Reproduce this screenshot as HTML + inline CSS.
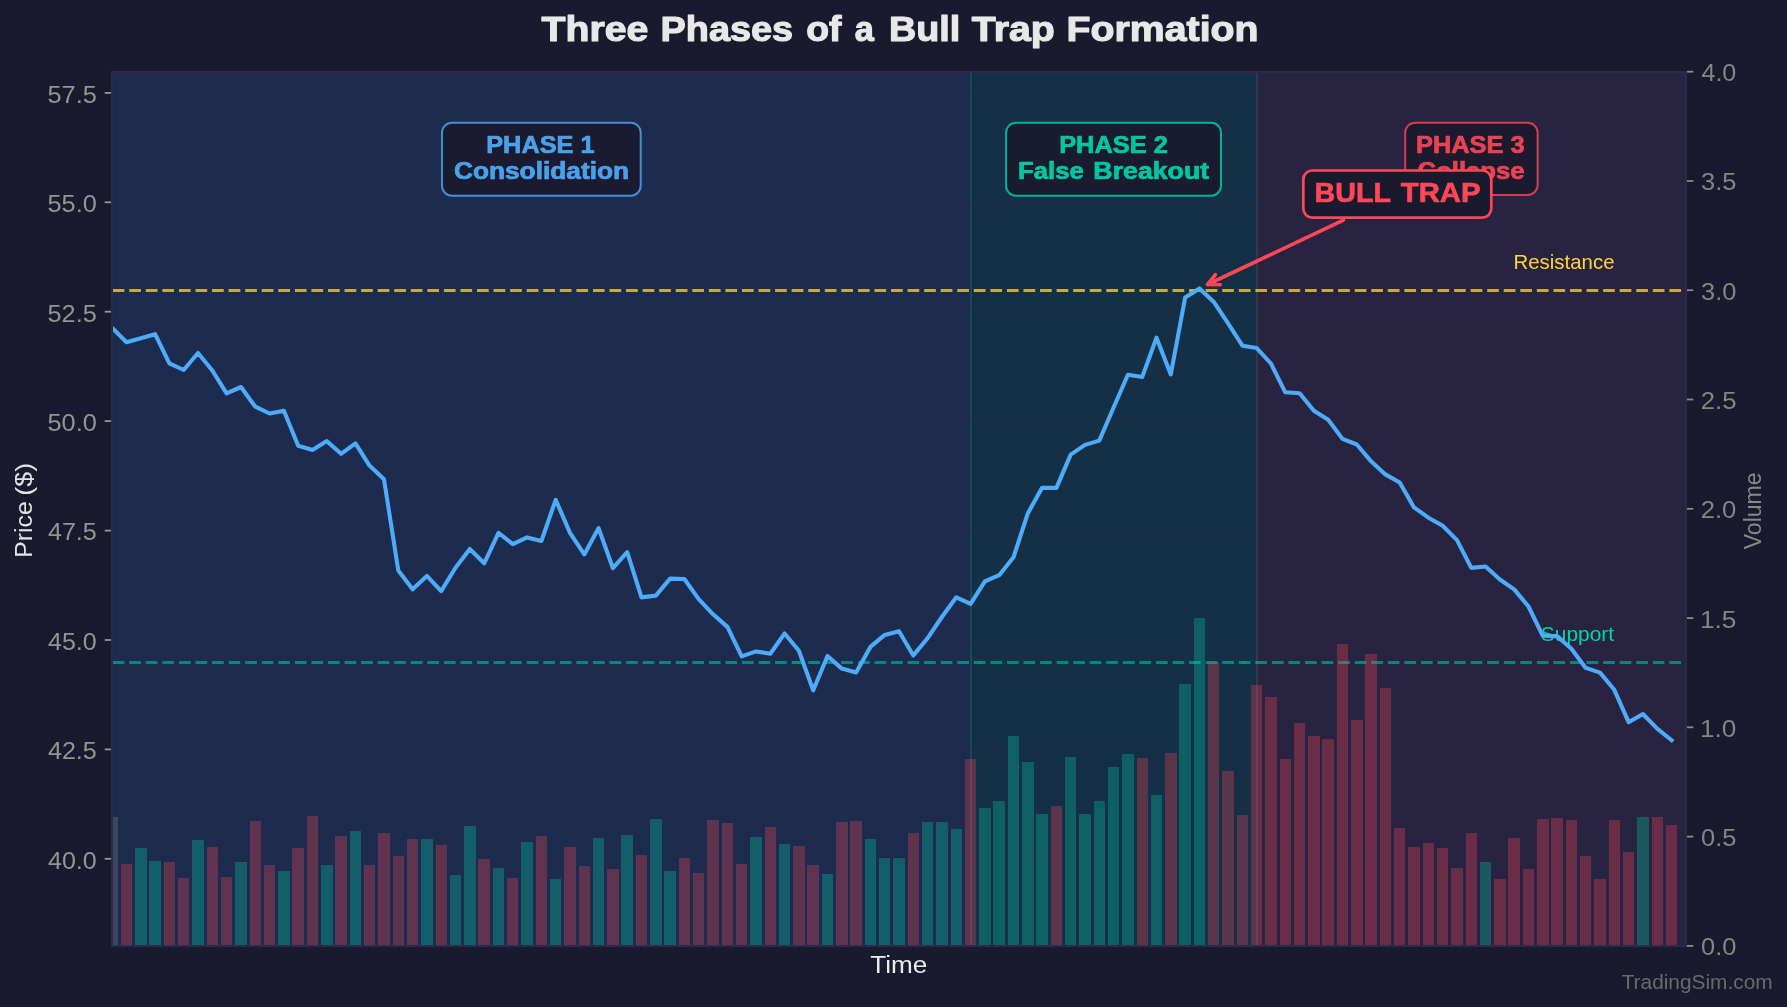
<!DOCTYPE html>
<html lang="en"><head><meta charset="utf-8"><title>Three Phases of a Bull Trap Formation</title>
<style>
html,body{margin:0;padding:0;background:#1a1a2e;}
body{width:1787px;height:1007px;overflow:hidden;font-family:"Liberation Sans",sans-serif;}
svg{display:block;font-family:"Liberation Sans",sans-serif;will-change:transform;}
</style></head><body>
<svg width="1787" height="1007" viewBox="0 0 1787 1007">
<rect width="1787" height="1007" fill="#1a1a2e"/>
<g shape-rendering="crispEdges">
<rect x="112.0" y="72.0" width="859.0" height="874.0" fill="#1c2b4e"/>
<rect x="971.0" y="72.0" width="286.0" height="874.0" fill="#152f46"/>
<rect x="1257.0" y="72.0" width="429.0" height="874.0" fill="#292342"/>
<rect x="970" y="72.0" width="2" height="874.0" fill="#19485f"/>
<rect x="1256" y="72.0" width="2" height="874.0" fill="#303a4e"/>
<rect x="112.0" y="858.3" width="1574.0" height="1" fill="#2a2a4a" fill-opacity="0.22"/>
<rect x="112.0" y="748.9" width="1574.0" height="1" fill="#2a2a4a" fill-opacity="0.22"/>
<rect x="112.0" y="639.5" width="1574.0" height="1" fill="#2a2a4a" fill-opacity="0.22"/>
<rect x="112.0" y="530.1" width="1574.0" height="1" fill="#2a2a4a" fill-opacity="0.22"/>
<rect x="112.0" y="420.6" width="1574.0" height="1" fill="#2a2a4a" fill-opacity="0.22"/>
<rect x="112.0" y="311.2" width="1574.0" height="1" fill="#2a2a4a" fill-opacity="0.22"/>
<rect x="112.0" y="201.8" width="1574.0" height="1" fill="#2a2a4a" fill-opacity="0.22"/>
<rect x="112.0" y="92.4" width="1574.0" height="1" fill="#2a2a4a" fill-opacity="0.22"/>
</g>
<path d="M112.7 290.50H1682.5" stroke="#ffd43b" stroke-opacity="0.76" stroke-dasharray="11.7 4.86" stroke-width="3" fill="none"/>
<path d="M112.7 662.50H1682.5" stroke="#00d4aa" stroke-opacity="0.53" stroke-dasharray="11.7 4.86" stroke-width="3" fill="none"/>
<text transform="translate(1513.51,268.90) scale(1.0269,1)" font-size="19.90" fill="#ffd43b">Resistance</text>
<text transform="translate(1540.76,641.20) scale(1.0531,1)" font-size="19.90" fill="#00d4aa">Support</text>
<clipPath id="axclip"><rect x="112.0" y="72.0" width="1574.0" height="874.0"/></clipPath>
<polyline clip-path="url(#axclip)" points="112.2,327.9 126.5,342.2 140.8,338.3 155.1,334.2 169.4,363.4 183.7,370.0 198.0,353.0 212.3,370.5 226.6,393.3 241.0,387.0 255.3,406.7 269.6,413.5 283.9,410.8 298.2,445.7 312.5,450.0 326.8,441.1 341.1,453.8 355.4,443.4 369.7,465.8 384.0,479.2 398.3,570.5 412.6,589.3 426.9,575.9 441.2,591.1 455.5,567.8 469.8,549.0 484.2,563.3 498.5,532.9 512.8,544.2 527.1,537.4 541.4,541.0 555.7,499.8 570.0,532.9 584.3,554.4 598.6,528.1 612.9,568.2 627.2,552.1 641.5,597.4 655.8,595.6 670.1,578.6 684.4,579.0 698.7,599.1 713.1,614.3 727.4,626.9 741.7,656.4 756.0,651.4 770.3,653.7 784.6,633.5 798.9,650.7 813.2,690.4 827.5,656.0 841.8,668.6 856.1,672.5 870.4,646.9 884.7,634.9 899.0,631.3 913.3,655.5 927.6,638.1 941.9,617.0 956.3,597.3 970.6,603.9 984.9,581.4 999.2,575.2 1013.5,557.3 1027.8,513.4 1042.1,487.8 1056.4,487.9 1070.7,454.6 1085.0,444.9 1099.3,440.6 1113.6,407.5 1127.9,374.7 1142.2,377.1 1156.5,337.7 1170.8,374.4 1185.2,297.4 1199.5,288.4 1213.8,301.9 1228.1,323.4 1242.4,345.7 1256.7,348.1 1271.0,363.6 1285.3,392.3 1299.6,393.2 1313.9,410.7 1328.2,419.7 1342.5,438.9 1356.8,444.5 1371.1,461.3 1385.4,474.4 1399.7,482.5 1414.0,507.4 1428.4,517.7 1442.7,525.8 1457.0,540.1 1471.3,567.9 1485.6,566.5 1499.9,579.5 1514.2,589.4 1528.5,606.5 1542.8,635.8 1557.1,636.1 1571.4,648.8 1585.7,667.9 1600.0,672.6 1614.3,689.8 1628.6,722.2 1642.9,714.0 1657.2,728.6 1671.6,740.2" fill="none" stroke="#4dabf7" stroke-width="4.1" stroke-linejoin="round" stroke-linecap="square"/>
<rect x="442.00" y="122.70" width="198.70" height="73.00" rx="10" ry="10" fill="#1a1a2e" fill-opacity="0.92" stroke="#4dabf7" stroke-opacity="0.8" stroke-width="2.0"/>
<text transform="translate(486.24,152.70) scale(1.0683,1)" font-size="23.70" fill="#4dabf7" font-weight="700" stroke="#4dabf7" stroke-width="0.7" stroke-linejoin="round" fill-opacity="0.92" stroke-opacity="0.92">PHASE 1</text>
<text transform="translate(453.90,178.80) scale(1.1093,1)" font-size="23.70" fill="#4dabf7" font-weight="700" stroke="#4dabf7" stroke-width="0.7" stroke-linejoin="round" fill-opacity="0.92" stroke-opacity="0.92">Consolidation</text>
<rect x="1006.10" y="122.70" width="214.90" height="73.00" rx="10" ry="10" fill="#1a1a2e" fill-opacity="0.92" stroke="#00d4aa" stroke-opacity="0.8" stroke-width="2.0"/>
<text transform="translate(1059.13,152.70) scale(1.0729,1)" font-size="23.70" fill="#00d4aa" font-weight="700" stroke="#00d4aa" stroke-width="0.7" stroke-linejoin="round" fill-opacity="0.92" stroke-opacity="0.92">PHASE 2</text>
<text transform="translate(1018.12,178.80) scale(1.0845,1)" font-size="23.70" fill="#00d4aa" font-weight="700" stroke="#00d4aa" stroke-width="0.7" stroke-linejoin="round" fill-opacity="0.92" stroke-opacity="0.92">False</text>
<text transform="translate(1093.35,178.80) scale(1.1275,1)" font-size="23.70" fill="#00d4aa" font-weight="700" stroke="#00d4aa" stroke-width="0.7" stroke-linejoin="round" fill-opacity="0.92" stroke-opacity="0.92">Breakout</text>
<rect x="1405.20" y="122.70" width="132.40" height="72.30" rx="10" ry="10" fill="#1a1a2e" fill-opacity="0.92" stroke="#ff4757" stroke-opacity="0.8" stroke-width="2.0"/>
<text transform="translate(1416.04,152.60) scale(1.0713,1)" font-size="23.70" fill="#ff4757" font-weight="700" stroke="#ff4757" stroke-width="0.7" stroke-linejoin="round" fill-opacity="0.9" stroke-opacity="0.9">PHASE 3</text>
<text transform="translate(1417.52,178.50) scale(1.0840,1)" font-size="23.70" fill="#ff4757" font-weight="700" stroke="#ff4757" stroke-width="0.7" stroke-linejoin="round" fill-opacity="0.9" stroke-opacity="0.9">Collapse</text>
<g fill="none" stroke="#ff4757" stroke-width="3.6" stroke-linecap="round" stroke-linejoin="round">
<path d="M1343.4 220.1L1207.6 284.5"/>
<path d="M1215.4 274.6L1207.6 284.5L1220.2 284.8"/>
</g>
<rect x="1303.30" y="170.50" width="188.00" height="47.10" rx="9" ry="9" fill="#1a1a2e" fill-opacity="1.0" stroke="#ff4757" stroke-opacity="1.0" stroke-width="2.7"/>
<text transform="translate(1314.62,202.20) scale(1.0094,1)" font-size="28.40" fill="#ff4757" font-weight="700" stroke="#ff4757" stroke-width="0.7" stroke-linejoin="round">BULL</text>
<text transform="translate(1400.76,202.20) scale(1.0310,1)" font-size="28.40" fill="#ff4757" font-weight="700" stroke="#ff4757" stroke-width="0.7" stroke-linejoin="round">TRAP</text>
<g shape-rendering="crispEdges">
<rect x="112.00" y="817.1" width="5.92" height="128.9" fill="#888888" fill-opacity="0.3"/>
<rect x="120.78" y="864.0" width="11.44" height="82.0" fill="#ff4757" fill-opacity="0.3"/>
<rect x="135.09" y="848.1" width="11.44" height="97.9" fill="#00d4aa" fill-opacity="0.3"/>
<rect x="149.40" y="861.1" width="11.44" height="84.9" fill="#00d4aa" fill-opacity="0.3"/>
<rect x="163.70" y="862.2" width="11.44" height="83.8" fill="#ff4757" fill-opacity="0.3"/>
<rect x="178.01" y="878.0" width="11.44" height="68.0" fill="#ff4757" fill-opacity="0.3"/>
<rect x="192.31" y="840.0" width="11.44" height="106.0" fill="#00d4aa" fill-opacity="0.3"/>
<rect x="206.62" y="847.0" width="11.44" height="99.0" fill="#ff4757" fill-opacity="0.3"/>
<rect x="220.93" y="877.1" width="11.44" height="68.9" fill="#ff4757" fill-opacity="0.3"/>
<rect x="235.23" y="862.2" width="11.44" height="83.8" fill="#00d4aa" fill-opacity="0.3"/>
<rect x="249.54" y="821.2" width="11.44" height="124.8" fill="#ff4757" fill-opacity="0.3"/>
<rect x="263.84" y="865.1" width="11.44" height="80.9" fill="#ff4757" fill-opacity="0.3"/>
<rect x="278.15" y="871.2" width="11.44" height="74.8" fill="#00d4aa" fill-opacity="0.3"/>
<rect x="292.46" y="848.1" width="11.44" height="97.9" fill="#ff4757" fill-opacity="0.3"/>
<rect x="306.76" y="816.2" width="11.44" height="129.8" fill="#ff4757" fill-opacity="0.3"/>
<rect x="321.07" y="865.1" width="11.44" height="80.9" fill="#00d4aa" fill-opacity="0.3"/>
<rect x="335.37" y="836.1" width="11.44" height="109.9" fill="#ff4757" fill-opacity="0.3"/>
<rect x="349.68" y="831.1" width="11.44" height="114.9" fill="#00d4aa" fill-opacity="0.3"/>
<rect x="363.99" y="865.1" width="11.44" height="80.9" fill="#ff4757" fill-opacity="0.3"/>
<rect x="378.29" y="833.0" width="11.44" height="113.0" fill="#ff4757" fill-opacity="0.3"/>
<rect x="392.60" y="856.1" width="11.44" height="89.9" fill="#ff4757" fill-opacity="0.3"/>
<rect x="406.90" y="839.1" width="11.44" height="106.9" fill="#ff4757" fill-opacity="0.3"/>
<rect x="421.21" y="839.1" width="11.44" height="106.9" fill="#00d4aa" fill-opacity="0.3"/>
<rect x="435.52" y="845.2" width="11.44" height="100.8" fill="#ff4757" fill-opacity="0.3"/>
<rect x="449.82" y="875.1" width="11.44" height="70.9" fill="#00d4aa" fill-opacity="0.3"/>
<rect x="464.13" y="826.0" width="11.44" height="120.0" fill="#00d4aa" fill-opacity="0.3"/>
<rect x="478.43" y="859.2" width="11.44" height="86.8" fill="#ff4757" fill-opacity="0.3"/>
<rect x="492.74" y="868.1" width="11.44" height="77.9" fill="#00d4aa" fill-opacity="0.3"/>
<rect x="507.05" y="878.2" width="11.44" height="67.8" fill="#ff4757" fill-opacity="0.3"/>
<rect x="521.35" y="842.2" width="11.44" height="103.8" fill="#00d4aa" fill-opacity="0.3"/>
<rect x="535.66" y="836.1" width="11.44" height="109.9" fill="#ff4757" fill-opacity="0.3"/>
<rect x="549.96" y="879.0" width="11.44" height="67.0" fill="#00d4aa" fill-opacity="0.3"/>
<rect x="564.27" y="847.2" width="11.44" height="98.8" fill="#ff4757" fill-opacity="0.3"/>
<rect x="578.58" y="866.2" width="11.44" height="79.8" fill="#ff4757" fill-opacity="0.3"/>
<rect x="592.88" y="838.0" width="11.44" height="108.0" fill="#00d4aa" fill-opacity="0.3"/>
<rect x="607.19" y="869.0" width="11.44" height="77.0" fill="#ff4757" fill-opacity="0.3"/>
<rect x="621.49" y="835.2" width="11.44" height="110.8" fill="#00d4aa" fill-opacity="0.3"/>
<rect x="635.80" y="855.0" width="11.44" height="91.0" fill="#ff4757" fill-opacity="0.3"/>
<rect x="650.11" y="819.1" width="11.44" height="126.9" fill="#00d4aa" fill-opacity="0.3"/>
<rect x="664.41" y="871.2" width="11.44" height="74.8" fill="#00d4aa" fill-opacity="0.3"/>
<rect x="678.72" y="858.1" width="11.44" height="87.9" fill="#ff4757" fill-opacity="0.3"/>
<rect x="693.02" y="873.1" width="11.44" height="72.9" fill="#ff4757" fill-opacity="0.3"/>
<rect x="707.33" y="820.1" width="11.44" height="125.9" fill="#ff4757" fill-opacity="0.3"/>
<rect x="721.64" y="823.2" width="11.44" height="122.8" fill="#ff4757" fill-opacity="0.3"/>
<rect x="735.94" y="864.0" width="11.44" height="82.0" fill="#ff4757" fill-opacity="0.3"/>
<rect x="750.25" y="837.1" width="11.44" height="108.9" fill="#00d4aa" fill-opacity="0.3"/>
<rect x="764.55" y="827.1" width="11.44" height="118.9" fill="#ff4757" fill-opacity="0.3"/>
<rect x="778.86" y="844.1" width="11.44" height="101.9" fill="#00d4aa" fill-opacity="0.3"/>
<rect x="793.17" y="846.1" width="11.44" height="99.9" fill="#ff4757" fill-opacity="0.3"/>
<rect x="807.47" y="865.1" width="11.44" height="80.9" fill="#ff4757" fill-opacity="0.3"/>
<rect x="821.78" y="874.0" width="11.44" height="72.0" fill="#00d4aa" fill-opacity="0.3"/>
<rect x="836.08" y="822.1" width="11.44" height="123.9" fill="#ff4757" fill-opacity="0.3"/>
<rect x="850.39" y="821.2" width="11.44" height="124.8" fill="#ff4757" fill-opacity="0.3"/>
<rect x="864.70" y="839.1" width="11.44" height="106.9" fill="#00d4aa" fill-opacity="0.3"/>
<rect x="879.00" y="858.1" width="11.44" height="87.9" fill="#00d4aa" fill-opacity="0.3"/>
<rect x="893.31" y="858.1" width="11.44" height="87.9" fill="#00d4aa" fill-opacity="0.3"/>
<rect x="907.61" y="833.2" width="11.44" height="112.8" fill="#ff4757" fill-opacity="0.3"/>
<rect x="921.92" y="822.1" width="11.44" height="123.9" fill="#00d4aa" fill-opacity="0.3"/>
<rect x="936.23" y="822.1" width="11.44" height="123.9" fill="#00d4aa" fill-opacity="0.3"/>
<rect x="950.53" y="829.1" width="11.44" height="116.9" fill="#00d4aa" fill-opacity="0.3"/>
<rect x="964.84" y="759.1" width="11.44" height="186.9" fill="#ff4757" fill-opacity="0.3"/>
<rect x="979.14" y="808.0" width="11.44" height="138.0" fill="#00d4aa" fill-opacity="0.3"/>
<rect x="993.45" y="801.0" width="11.44" height="145.0" fill="#00d4aa" fill-opacity="0.3"/>
<rect x="1007.76" y="736.0" width="11.44" height="210.0" fill="#00d4aa" fill-opacity="0.3"/>
<rect x="1022.06" y="762.2" width="11.44" height="183.8" fill="#00d4aa" fill-opacity="0.3"/>
<rect x="1036.37" y="813.9" width="11.44" height="132.1" fill="#00d4aa" fill-opacity="0.3"/>
<rect x="1050.67" y="806.0" width="11.44" height="140.0" fill="#ff4757" fill-opacity="0.3"/>
<rect x="1064.98" y="757.2" width="11.44" height="188.8" fill="#00d4aa" fill-opacity="0.3"/>
<rect x="1079.29" y="813.9" width="11.44" height="132.1" fill="#00d4aa" fill-opacity="0.3"/>
<rect x="1093.59" y="801.0" width="11.44" height="145.0" fill="#00d4aa" fill-opacity="0.3"/>
<rect x="1107.90" y="767.0" width="11.44" height="179.0" fill="#00d4aa" fill-opacity="0.3"/>
<rect x="1122.20" y="754.1" width="11.44" height="191.9" fill="#00d4aa" fill-opacity="0.3"/>
<rect x="1136.51" y="758.1" width="11.44" height="187.9" fill="#ff4757" fill-opacity="0.3"/>
<rect x="1150.82" y="795.1" width="11.44" height="150.9" fill="#00d4aa" fill-opacity="0.3"/>
<rect x="1165.12" y="753.0" width="11.44" height="193.0" fill="#ff4757" fill-opacity="0.3"/>
<rect x="1179.43" y="684.2" width="11.44" height="261.8" fill="#00d4aa" fill-opacity="0.3"/>
<rect x="1193.73" y="617.9" width="11.44" height="328.1" fill="#00d4aa" fill-opacity="0.3"/>
<rect x="1208.04" y="662.1" width="11.44" height="283.9" fill="#ff4757" fill-opacity="0.3"/>
<rect x="1222.35" y="771.1" width="11.44" height="174.9" fill="#ff4757" fill-opacity="0.3"/>
<rect x="1236.65" y="815.0" width="11.44" height="131.0" fill="#ff4757" fill-opacity="0.3"/>
<rect x="1250.96" y="685.1" width="11.44" height="260.9" fill="#ff4757" fill-opacity="0.3"/>
<rect x="1265.26" y="697.2" width="11.44" height="248.8" fill="#ff4757" fill-opacity="0.3"/>
<rect x="1279.57" y="759.0" width="11.44" height="187.0" fill="#ff4757" fill-opacity="0.3"/>
<rect x="1293.88" y="723.0" width="11.44" height="223.0" fill="#ff4757" fill-opacity="0.3"/>
<rect x="1308.18" y="736.1" width="11.44" height="209.9" fill="#ff4757" fill-opacity="0.3"/>
<rect x="1322.49" y="739.1" width="11.44" height="206.9" fill="#ff4757" fill-opacity="0.3"/>
<rect x="1336.79" y="644.1" width="11.44" height="301.9" fill="#ff4757" fill-opacity="0.3"/>
<rect x="1351.10" y="720.0" width="11.44" height="226.0" fill="#ff4757" fill-opacity="0.3"/>
<rect x="1365.41" y="654.1" width="11.44" height="291.9" fill="#ff4757" fill-opacity="0.3"/>
<rect x="1379.71" y="688.1" width="11.44" height="257.9" fill="#ff4757" fill-opacity="0.3"/>
<rect x="1394.02" y="828.2" width="11.44" height="117.8" fill="#ff4757" fill-opacity="0.3"/>
<rect x="1408.32" y="847.2" width="11.44" height="98.8" fill="#ff4757" fill-opacity="0.3"/>
<rect x="1422.63" y="843.1" width="11.44" height="102.9" fill="#ff4757" fill-opacity="0.3"/>
<rect x="1436.94" y="848.1" width="11.44" height="97.9" fill="#ff4757" fill-opacity="0.3"/>
<rect x="1451.24" y="868.1" width="11.44" height="77.9" fill="#ff4757" fill-opacity="0.3"/>
<rect x="1465.55" y="833.2" width="11.44" height="112.8" fill="#ff4757" fill-opacity="0.3"/>
<rect x="1479.85" y="862.2" width="11.44" height="83.8" fill="#00d4aa" fill-opacity="0.3"/>
<rect x="1494.16" y="879.0" width="11.44" height="67.0" fill="#ff4757" fill-opacity="0.3"/>
<rect x="1508.47" y="838.0" width="11.44" height="108.0" fill="#ff4757" fill-opacity="0.3"/>
<rect x="1522.77" y="869.0" width="11.44" height="77.0" fill="#ff4757" fill-opacity="0.3"/>
<rect x="1537.08" y="819.1" width="11.44" height="126.9" fill="#ff4757" fill-opacity="0.3"/>
<rect x="1551.38" y="818.2" width="11.44" height="127.8" fill="#ff4757" fill-opacity="0.3"/>
<rect x="1565.69" y="820.1" width="11.44" height="125.9" fill="#ff4757" fill-opacity="0.3"/>
<rect x="1580.00" y="856.1" width="11.44" height="89.9" fill="#ff4757" fill-opacity="0.3"/>
<rect x="1594.30" y="879.0" width="11.44" height="67.0" fill="#ff4757" fill-opacity="0.3"/>
<rect x="1608.61" y="820.1" width="11.44" height="125.9" fill="#ff4757" fill-opacity="0.3"/>
<rect x="1622.91" y="852.0" width="11.44" height="94.0" fill="#ff4757" fill-opacity="0.3"/>
<rect x="1637.22" y="817.1" width="11.44" height="128.9" fill="#00d4aa" fill-opacity="0.3"/>
<rect x="1651.53" y="817.1" width="11.44" height="128.9" fill="#ff4757" fill-opacity="0.3"/>
<rect x="1665.83" y="825.1" width="11.44" height="120.9" fill="#ff4757" fill-opacity="0.3"/>
</g>
<rect x="112.0" y="72.0" width="1574.0" height="874.0" fill="none" stroke="#2a2a4a" stroke-width="2" shape-rendering="crispEdges"/>
<g stroke="#979797" stroke-width="1.8">
<path d="M104.7 858.8H111"/>
<path d="M104.7 749.4H111"/>
<path d="M104.7 640.0H111"/>
<path d="M104.7 530.6H111"/>
<path d="M104.7 421.1H111"/>
<path d="M104.7 311.7H111"/>
<path d="M104.7 202.3H111"/>
<path d="M104.7 92.9H111"/>
</g>
<g stroke="#8a8a8a" stroke-width="1.8">
<path d="M1687 945.9H1693.3"/>
<path d="M1687 836.6H1693.3"/>
<path d="M1687 727.3H1693.3"/>
<path d="M1687 618.1H1693.3"/>
<path d="M1687 508.8H1693.3"/>
<path d="M1687 399.5H1693.3"/>
<path d="M1687 290.2H1693.3"/>
<path d="M1687 181.0H1693.3"/>
<path d="M1687 71.7H1693.3"/>
</g>
<text transform="translate(47.94,868.70) scale(1.0326,1)" font-size="24.30" fill="#949494">40.0</text>
<text transform="translate(47.93,759.28) scale(1.0340,1)" font-size="24.30" fill="#949494">42.5</text>
<text transform="translate(47.94,649.87) scale(1.0326,1)" font-size="24.30" fill="#949494">45.0</text>
<text transform="translate(47.93,540.45) scale(1.0340,1)" font-size="24.30" fill="#949494">47.5</text>
<text transform="translate(47.49,431.04) scale(1.0423,1)" font-size="24.30" fill="#949494">50.0</text>
<text transform="translate(47.49,321.62) scale(1.0437,1)" font-size="24.30" fill="#949494">52.5</text>
<text transform="translate(47.49,212.21) scale(1.0423,1)" font-size="24.30" fill="#949494">55.0</text>
<text transform="translate(47.49,102.79) scale(1.0437,1)" font-size="24.30" fill="#949494">57.5</text>
<text transform="translate(1700.98,955.40) scale(1.0472,1)" font-size="24.30" fill="#858585">0.0</text>
<text transform="translate(1700.98,846.12) scale(1.0492,1)" font-size="24.30" fill="#858585">0.5</text>
<text transform="translate(1700.04,736.85) scale(1.0759,1)" font-size="24.30" fill="#858585">1.0</text>
<text transform="translate(1700.04,627.57) scale(1.0780,1)" font-size="24.30" fill="#858585">1.5</text>
<text transform="translate(1700.72,518.30) scale(1.0553,1)" font-size="24.30" fill="#858585">2.0</text>
<text transform="translate(1700.72,409.02) scale(1.0573,1)" font-size="24.30" fill="#858585">2.5</text>
<text transform="translate(1701.05,299.75) scale(1.0452,1)" font-size="24.30" fill="#858585">3.0</text>
<text transform="translate(1701.05,190.47) scale(1.0472,1)" font-size="24.30" fill="#858585">3.5</text>
<text transform="translate(1701.43,81.20) scale(1.0334,1)" font-size="24.30" fill="#858585">4.0</text>
<text transform="translate(31.90,555.60) rotate(-90) translate(-2.04,0) scale(1.0171,1)" font-size="24.30" fill="#e4e4e4">Price</text>
<text transform="translate(31.90,494.00) rotate(-90) translate(-1.68,0) scale(1.1036,1)" font-size="24.30" fill="#e4e4e4">($)</text>
<text transform="translate(1761.30,549.10) rotate(-90) translate(-0.12,0) scale(0.9476,1)" font-size="24.30" fill="#888888">Volume</text>
<text transform="translate(870.31,973.00) scale(1.0754,1)" font-size="24.30" fill="#ececec">Time</text>
<text transform="translate(541.46,40.60) scale(1.1312,1)" font-size="34.70" fill="#e8e8e8" font-weight="700" stroke="#e8e8e8" stroke-width="1.1" stroke-linejoin="round">Three</text>
<text transform="translate(660.49,40.60) scale(1.0916,1)" font-size="34.70" fill="#e8e8e8" font-weight="700" stroke="#e8e8e8" stroke-width="1.1" stroke-linejoin="round">Phases</text>
<text transform="translate(806.16,40.60) scale(1.0763,1)" font-size="34.70" fill="#e8e8e8" font-weight="700" stroke="#e8e8e8" stroke-width="1.1" stroke-linejoin="round">of</text>
<text transform="translate(854.72,40.60) scale(0.9904,1)" font-size="34.70" fill="#e8e8e8" font-weight="700" stroke="#e8e8e8" stroke-width="1.1" stroke-linejoin="round">a</text>
<text transform="translate(888.90,40.60) scale(1.0885,1)" font-size="34.70" fill="#e8e8e8" font-weight="700" stroke="#e8e8e8" stroke-width="1.1" stroke-linejoin="round">Bull</text>
<text transform="translate(971.86,40.60) scale(1.1332,1)" font-size="34.70" fill="#e8e8e8" font-weight="700" stroke="#e8e8e8" stroke-width="1.1" stroke-linejoin="round">Trap</text>
<text transform="translate(1066.60,40.60) scale(1.1315,1)" font-size="34.70" fill="#e8e8e8" font-weight="700" stroke="#e8e8e8" stroke-width="1.1" stroke-linejoin="round">Formation</text>
<text transform="translate(1621.63,989.30) scale(1.0479,1)" font-size="19.90" fill="#6a6a6e">TradingSim.com</text>
</svg></body></html>
